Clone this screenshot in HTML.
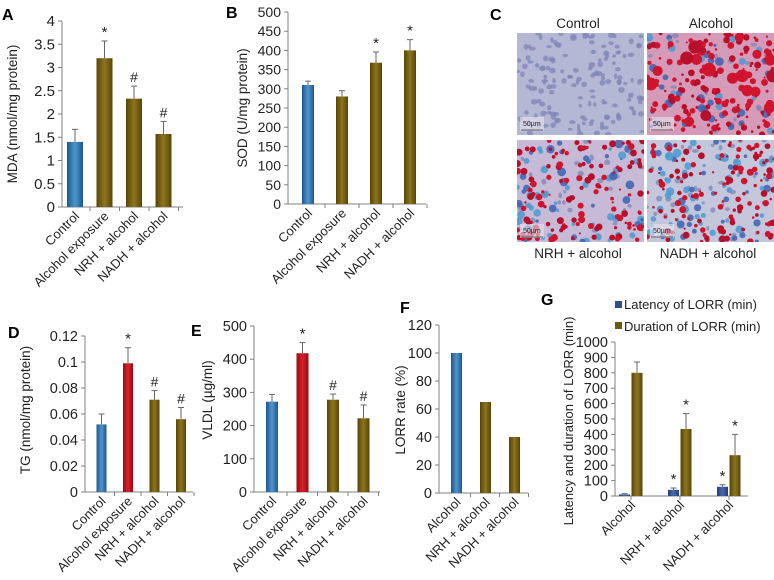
<!DOCTYPE html>
<html><head><meta charset="utf-8">
<style>
html,body{margin:0;padding:0;background:#fff;}
svg{display:block;font-family:"Liberation Sans",Arial,sans-serif;}
</style></head>
<body>
<svg id="fig" width="774" height="580" viewBox="0 0 774 580" xmlns="http://www.w3.org/2000/svg">
<defs>
<linearGradient id="gBlue" x1="0" x2="1" y1="0" y2="0"><stop offset="0" stop-color="#1d5690"/><stop offset="0.5" stop-color="#4f95cc"/><stop offset="1" stop-color="#1d5690"/></linearGradient>
<linearGradient id="gOlive" x1="0" x2="1" y1="0" y2="0"><stop offset="0" stop-color="#574505"/><stop offset="0.5" stop-color="#8c7520"/><stop offset="1" stop-color="#574505"/></linearGradient>
<linearGradient id="gRed" x1="0" x2="1" y1="0" y2="0"><stop offset="0" stop-color="#9a0a12"/><stop offset="0.5" stop-color="#d8202a"/><stop offset="1" stop-color="#9a0a12"/></linearGradient>
<linearGradient id="gNavy" x1="0" x2="1" y1="0" y2="0"><stop offset="0" stop-color="#233f7a"/><stop offset="0.5" stop-color="#4a6aa8"/><stop offset="1" stop-color="#233f7a"/></linearGradient>
</defs>
</svg>
<script>
// Panel A (MDA)
const aCats=["Control","Alcohol exposure","NRH + alcohol","NADH + alcohol"];
const aVals=[1.4,3.2,2.33,1.57];
const aErrs=[0.27,0.37,0.27,0.27];
const aMarks=["","*","#","#"];
const aTicks=["0","0.5","1","1.5","2","2.5","3","3.5","4"];
// Panel B (SOD)
const bCats=["Control","Alcohol exposure","NRH + alcohol","NADH + alcohol"];
const bVals=[310,280,368,400];
const bErrs=[10,15,28,28];
const bMarks=["","","*","*"];
const bTicks=["0","50","100","150","200","250","300","350","400","450","500"];
// Panel D (TG)
const dCats=["Control","Alcohol exposure","NRH + alcohol","NADH + alcohol"];
const dVals=[0.052,0.099,0.071,0.056];
const dErrs=[0.008,0.012,0.007,0.009];
const dMarks=["","*","#","#"];
const dTicks=["0","0.02","0.04","0.06","0.08","0.1","0.12"];
// Panel E (VLDL)
const eCats=["Control","Alcohol exposure","NRH + alcohol","NADH + alcohol"];
const eVals=[272,418,278,222];
const eErrs=[22,32,17,40];
const eMarks=["","*","#","#"];
const eTicks=["0","100","200","300","400","500"];
// Panel F (LORR rate)
const fCats=["Alcohol","NRH + alcohol","NADH + alcohol"];
const fVals=[100,65,40];
const fTicks=["0","20","40","60","80","100","120"];
// Panel G (LORR latency/duration)
const gCats=["Alcohol","NRH + alcohol","NADH + alcohol"];
const gLatency=[10,40,60];
const gLatencyErr=[5,12,13];
const gLatencyMarks=["","*","*"];
const gDuration=[800,435,265];
const gDurationErr=[70,100,135];
const gDurationMarks=["","*","*"];
const gTicks=["0","100","200","300","400","500","600","700","800","900","1000"];

const NS="http://www.w3.org/2000/svg";
const svg=document.getElementById("fig");
function el(tag,attrs,parent,text){
  const e=document.createElementNS(NS,tag);
  for(const k in attrs)e.setAttribute(k,attrs[k]);
  if(text!==undefined)e.textContent=text;
  (parent||svg).appendChild(e);return e;
}
function grp(name){const g=el("g",{});return g;}
function letter(t,x,y){const e=el("text",{x:x,y:y,"font-size":16,"font-weight":"bold",fill:"#000"},svg,t);

}

function axes(g,L,ticks,title){
  const ymin=0,ymax=parseFloat(ticks[ticks.length-1]);
  const sy=v=>L.y0-(v-ymin)/(ymax-ymin)*(L.y0-L.y1);
  const ax=el("line",{x1:L.ax,x2:L.ax,y1:L.y1,y2:L.y0,stroke:"#808080","stroke-width":1},g);
  
  
  const xx=el("line",{x1:L.ax,x2:L.axEnd,y1:L.y0,y2:L.y0,stroke:"#808080","stroke-width":1},g);
  
  
  ticks.forEach(t=>{
    const y=sy(parseFloat(t));
    el("line",{x1:L.ax-4,x2:L.ax,y1:y,y2:y,stroke:"#808080"},g);
    const tx=el("text",{x:L.ax-7,y:y+5,"font-size":L.fs||15,"text-anchor":"end",fill:"#222"},g,t);
    
    
  });
  const tt=el("text",{x:L.tx,y:L.ty,"font-size":L.tfs||13.5,"text-anchor":"middle",fill:"#222",transform:`rotate(-90 ${L.tx} ${L.ty})`},g,title);
  
  
  return sy;
}
function catLabels(g,L,cats,centers){
  cats.forEach((c,i)=>{
    const x=centers[i]+5,y=L.y0+10;
    el("line",{x1:centers[i]+L.tickOff,x2:centers[i]+L.tickOff,y1:L.y0,y2:L.y0+4,stroke:"#808080"},g);
    const t=el("text",{x:x,y:y,"font-size":13,"text-anchor":"end",fill:"#222",transform:`rotate(-45 ${x} ${y})`},g,c);
    
    
  });
}
function bar(g,sy,cx,w,v,err,mark,fill,name,y0){
  const y=sy(v);
  const r=el("rect",{x:cx-w/2,y:y,width:w,height:y0-y,fill:fill},g);
  
  
  if(err!==undefined){
    const ye=sy(v+err);
    el("line",{x1:cx,x2:cx,y1:y,y2:ye,stroke:"#666"},g);
    el("line",{x1:cx-3,x2:cx+3,y1:ye,y2:ye,stroke:"#666"},g);
    if(mark){const m=el("text",{x:cx,y:ye-4,"font-size":mark==="*"?15:14,"text-anchor":"middle",fill:"#222"},g,mark);
      
      }
  }
}
function simpleChart(name,L,cats,vals,errs,marks,ticks,title,colors){
  const g=grp(name);
  const sy=axes(g,L,ticks,title);
  const centers=cats.map((c,i)=>L.c0+i*L.step);
  cats.forEach((c,i)=>bar(g,sy,centers[i],L.bw,vals[i],errs?errs[i]:undefined,marks?marks[i]:"",colors[i],"bar-"+c.toLowerCase().replace(/[^a-z]+/g,'-'),L.y0));
  catLabels(g,L,cats,centers);
}
const BL="url(#gBlue)",OL="url(#gOlive)",RD="url(#gRed)";
letter("A",2,20);letter("B",226,18);letter("C",490,20);letter("D",8,338);letter("E",191,336);letter("F",400,313);letter("G",541,305);

simpleChart("chart-a-mda",{ax:62,axEnd:183,y0:207,y1:21,tx:17,ty:114,c0:75,step:29.5,bw:16,tickOff:15},aCats,aVals,aErrs,aMarks,aTicks,"MDA (nmol/mg protein)",[BL,OL,OL,OL]);
simpleChart("chart-b-sod",{ax:288,axEnd:426,y0:204,y1:12,tx:247,ty:108,c0:308,step:34,bw:12,tickOff:17,fs:14},bCats,bVals,bErrs,bMarks,bTicks,"SOD (U/mg protein)",[BL,OL,OL,OL]);
simpleChart("chart-d-tg",{ax:85,axEnd:193,y0:492,y1:336,tx:30,ty:410,c0:101.5,step:26.5,bw:10,tickOff:13,fs:14.5},dCats,dVals,dErrs,dMarks,dTicks,"TG (nmol/mg protein)",[BL,RD,OL,OL]);
simpleChart("chart-e-vldl",{ax:254,axEnd:380,y0:492,y1:326,tx:212,ty:400,c0:272,step:30.5,bw:12,tickOff:15,fs:14.5},eCats,eVals,eErrs,eMarks,eTicks,"VLDL (µg/ml)",[BL,RD,OL,OL]);
simpleChart("chart-f-lorr-rate",{ax:439,axEnd:528,y0:493,y1:325,tx:405,ty:410,c0:456.5,step:29,bw:11,tickOff:14,fs:14.5},fCats,fVals,null,null,fTicks,"LORR rate (%)",[BL,OL,OL]);

// Panel G grouped
(function(){
  const L={ax:615,axEnd:748,y0:496,y1:342,tx:573,ty:421,tickOff:0,fs:14.5,tfs:13};
  const g=grp("chart-g-lorr");
  const sy=axes(g,L,gTicks,"Latency and duration of LORR (min)");
  const centers=gCats.map((c,i)=>631+i*49);
  gCats.forEach((c,i)=>{
    bar(g,sy,centers[i]-6.5,11,gLatency[i],gLatencyErr[i],gLatencyMarks[i],"url(#gNavy)","bar-latency",L.y0);
    bar(g,sy,centers[i]+6,11,gDuration[i],gDurationErr[i],gDurationMarks[i],OL,"bar-duration",L.y0);
  });
  catLabels(g,L,gCats,centers);
  const lg=grp("legend");
  const s1=el("rect",{x:615,y:301,width:7,height:7,fill:"#2f4d8a"},lg);
  
  
  const t1=el("text",{x:624,y:309,"font-size":13,fill:"#222"},lg,"Latency of LORR (min)");
  
  
  const s2=el("rect",{x:615,y:322,width:7,height:7,fill:"#6b5810"},lg);
  
  
  const t2=el("text",{x:624,y:331,"font-size":13,fill:"#222"},lg,"Duration of LORR (min)");
  
  
})();

// Panel C micrographs (decorative texture)
(function(){
  let seed=12345;
  const rnd=()=>{seed=(seed*1103515245+12345)%2147483648;return seed/2147483648;};
  const panels=[
    {name:"micrograph-control",x:517,y:33,bg:"#b4b8d4",red:0,blue:0,nuc:160},
    {name:"micrograph-alcohol",x:647,y:33,bg:"#d59ab8",red:190,blue:50,nuc:20,big:1},
    {name:"micrograph-nrh",x:517,y:140,bg:"#c6bad6",red:130,blue:70,nuc:30},
    {name:"micrograph-nadh",x:647,y:140,bg:"#c4c6dc",red:130,blue:80,nuc:40}
  ];
  const g=grp("panel-c-micrographs");
  panels.forEach(p=>{
    const w=127,h=102;
    const pg=el("g",{},g);
    
    
    el("rect",{x:p.x,y:p.y,width:w,height:h,fill:p.bg},pg);
    const clip="c"+p.name;
    const cp=el("clipPath",{id:clip},pg);el("rect",{x:p.x,y:p.y,width:w,height:h},cp);
    const inner=el("g",{"clip-path":`url(#${clip})`},pg);
    for(let i=0;i<p.nuc;i++)el("ellipse",{cx:p.x+rnd()*w,cy:p.y+rnd()*h,rx:1.5+rnd()*2,ry:1.5+rnd()*1.5,fill:"#7f86b6",opacity:0.75},inner);
    for(let i=0;i<p.blue;i++)el("circle",{cx:p.x+rnd()*w,cy:p.y+rnd()*h,r:1.5+rnd()*3,fill:rnd()<0.5?"#3c62b0":"#4a9ad0",opacity:0.85},inner);
    for(let i=0;i<p.red;i++){const r=p.big&&rnd()<0.15?3+rnd()*4:1+rnd()*2.5;
      el("circle",{cx:p.x+rnd()*w,cy:p.y+rnd()*h,r:r,fill:rnd()<0.5?"#d0142e":"#b8102a"},inner);}
    el("rect",{x:p.x+3,y:p.y+h-18,width:24,height:14,fill:"#e8e4ee",opacity:0.6},pg);
    el("text",{x:p.x+6,y:p.y+h-9,"font-size":7,fill:"#222"},pg,"50µm");
    el("line",{x1:p.x+4,x2:p.x+26,y1:p.y+h-5,y2:p.y+h-5,stroke:"#333","stroke-width":0.8},pg);
  });
  [["Control",578,28],["Alcohol",711,28],["NRH + alcohol",578,258],["NADH + alcohol",708,258]].forEach(a=>{
    const t=el("text",{x:a[1],y:a[2],"font-size":13.5,"text-anchor":"middle",fill:"#222"},g,a[0]);
    
    
  });
})();
</script>
</body></html>
